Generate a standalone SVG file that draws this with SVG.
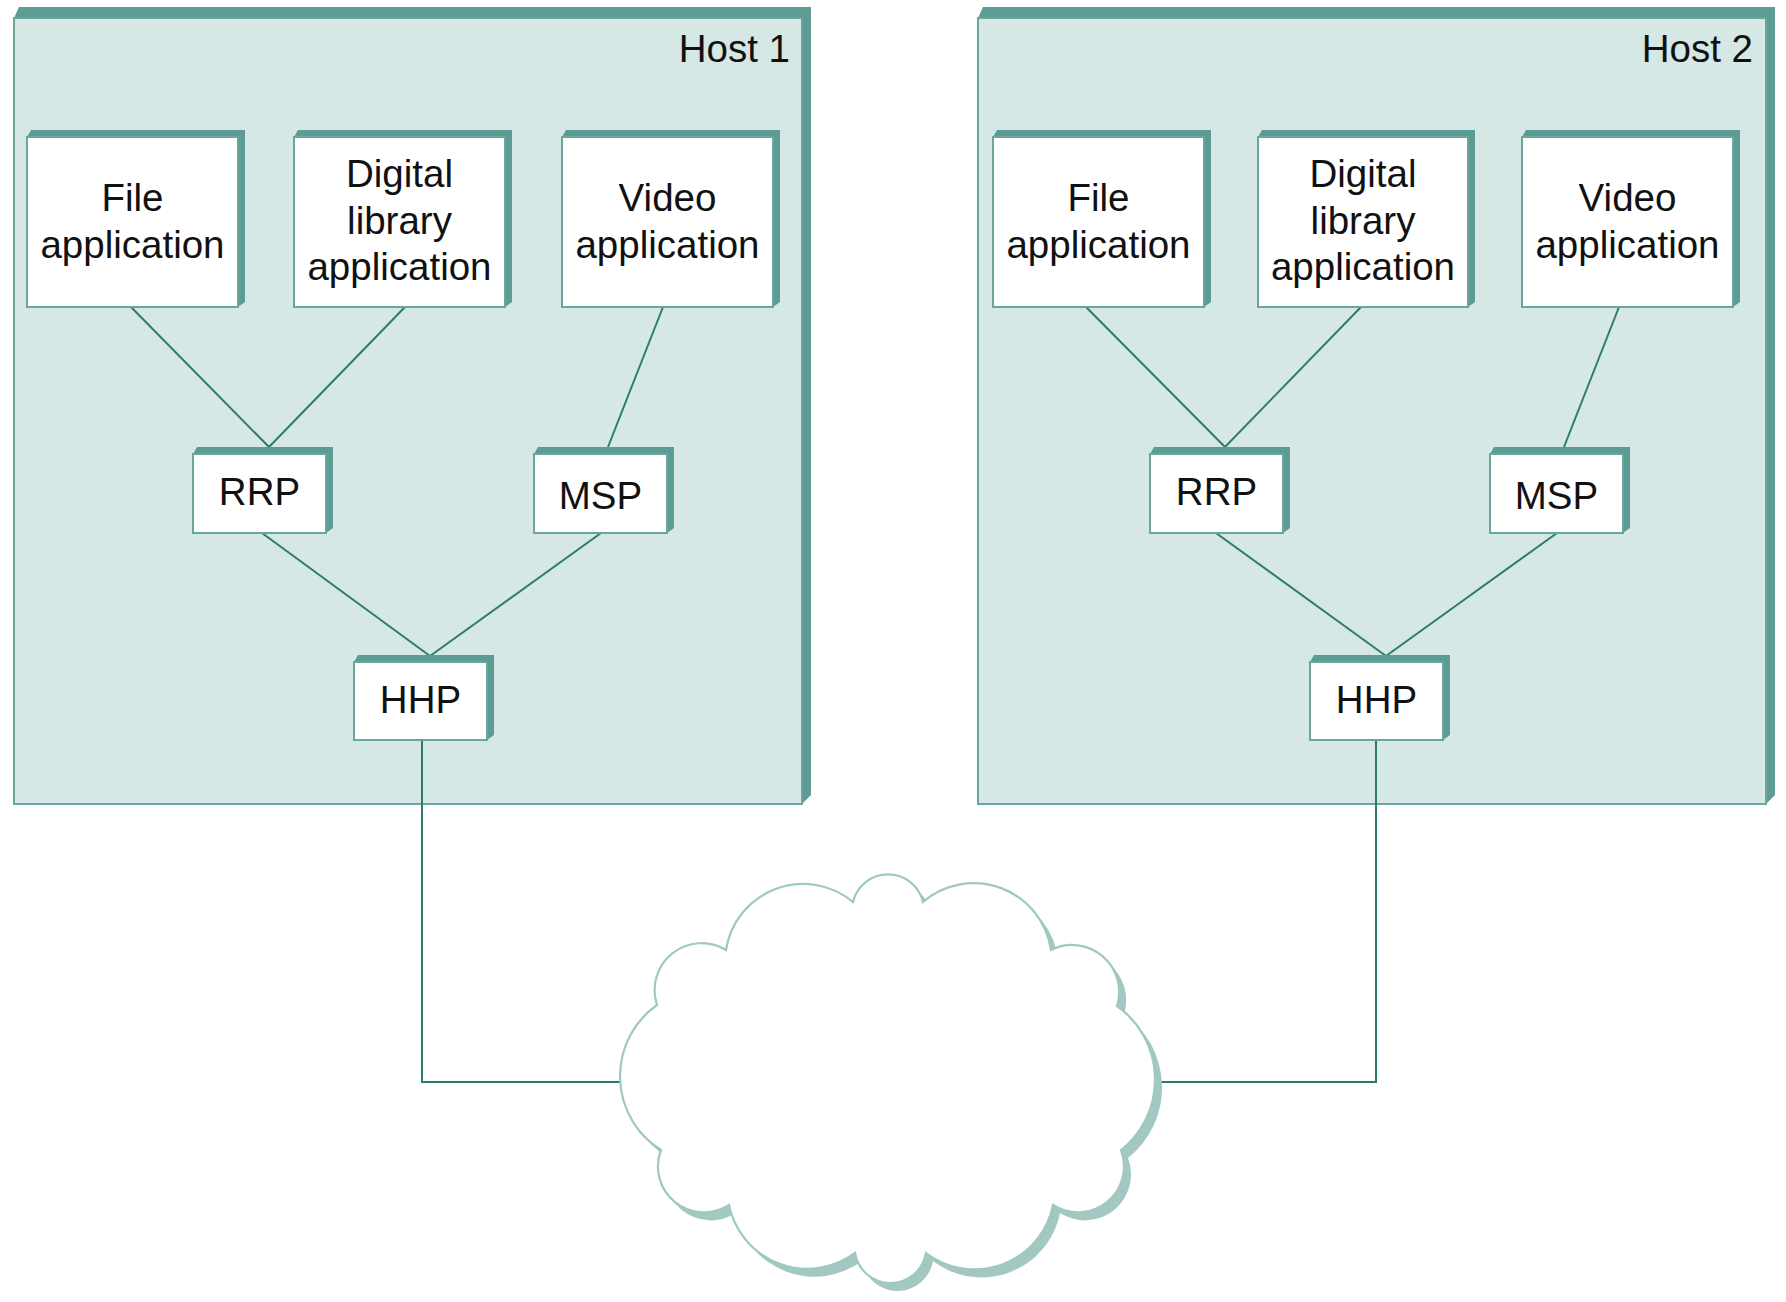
<svg xmlns="http://www.w3.org/2000/svg" width="1786" height="1302" viewBox="0 0 1786 1302">
<style>
  .bevel { fill: #5c9c94; }
  .host { fill: #d5e8e5; stroke: #6aa59e; stroke-width: 2; }
  .box { fill: #ffffff; stroke: #6aa59e; stroke-width: 2; }
  .lbl { font-family: "Liberation Sans", Arial, sans-serif; font-size: 38.5px; fill: #111111; text-anchor: middle; }
  .hostlbl { font-family: "Liberation Sans", Arial, sans-serif; font-size: 38.5px; fill: #111111; text-anchor: end; }
  .conn { fill: none; stroke: #2f7a70; stroke-width: 2; }
  .cloud { fill: #ffffff; stroke: #9fc8c1; stroke-width: 2.2; }
  .cloudshadow { fill: #a2c8c1; }
</style>
<defs>
  <path id="cloudpath" d="M 853 902 A 36 36 0 0 1 923 902 A 78 78 0 0 1 1051 950 A 47 47 0 0 1 1117 1006 A 90 90 0 0 1 1121 1150 A 46 46 0 0 1 1053 1205 A 80 80 0 0 1 926 1253 A 36 36 0 0 1 855 1253 A 80 80 0 0 1 729 1205 A 46 46 0 0 1 661 1150 A 87 87 0 0 1 657 1005 A 47 47 0 0 1 726 950 A 78 78 0 0 1 853 902 Z"/>
</defs>

<!-- Host containers -->
<g id="host1">
  <polygon class="bevel" points="14,18 19,7 811,7 811,795 802,804"/>
  <rect class="host" x="14" y="18" width="788" height="786"/>
  <text class="hostlbl" x="790" y="62">Host 1</text>
</g>
<g id="host2">
  <polygon class="bevel" points="978,18 983,7 1775,7 1775,795 1766,804"/>
  <rect class="host" x="978" y="18" width="788" height="786"/>
  <text class="hostlbl" x="1753" y="62">Host 2</text>
</g>

<!-- Connectors -->
<g id="connectors">
  <polyline class="conn" points="131,307 269,447"/>
  <polyline class="conn" points="405,307 269,447"/>
  <polyline class="conn" points="663,307 608,447"/>
  <polyline class="conn" points="262,533 430,656"/>
  <polyline class="conn" points="601,533 430,656"/>
  <polyline class="conn" points="422,740 422,1082 622,1082"/>
  <polyline class="conn" points="1086,307 1225,447"/>
  <polyline class="conn" points="1361,307 1225,447"/>
  <polyline class="conn" points="1619,307 1564,447"/>
  <polyline class="conn" points="1216,533 1386,656"/>
  <polyline class="conn" points="1557,533 1386,656"/>
  <polyline class="conn" points="1376,740 1376,1082 1154,1082"/>
</g>

<!-- Host 1 nodes -->
<g id="file1">
  <polygon class="bevel" points="27,137 31,130 245,130 245,302 238,307"/>
  <rect class="box" x="27" y="137" width="211" height="170"/>
  <text class="lbl" x="132.5"><tspan x="132.5" y="211">File</tspan><tspan x="132.5" y="258">application</tspan></text>
</g>
<g id="digital1">
  <polygon class="bevel" points="294,137 298,130 512,130 512,302 505,307"/>
  <rect class="box" x="294" y="137" width="211" height="170"/>
  <text class="lbl"><tspan x="399.5" y="187">Digital</tspan><tspan x="399.5" y="234">library</tspan><tspan x="399.5" y="280">application</tspan></text>
</g>
<g id="video1">
  <polygon class="bevel" points="562,137 566,130 780,130 780,302 773,307"/>
  <rect class="box" x="562" y="137" width="211" height="170"/>
  <text class="lbl"><tspan x="667.5" y="211">Video</tspan><tspan x="667.5" y="258">application</tspan></text>
</g>
<g id="rrp1">
  <polygon class="bevel" points="193,454 197,447 333,447 333,528 326,533"/>
  <rect class="box" x="193" y="454" width="133" height="79"/>
  <text class="lbl" x="259.5" y="505">RRP</text>
</g>
<g id="msp1">
  <polygon class="bevel" points="534,454 538,447 674,447 674,528 667,533"/>
  <rect class="box" x="534" y="454" width="133" height="79"/>
  <text class="lbl" x="600.5" y="509">MSP</text>
</g>
<g id="hhp1">
  <polygon class="bevel" points="354,662 358,655 494,655 494,735 487,740"/>
  <rect class="box" x="354" y="662" width="133" height="78"/>
  <text class="lbl" x="420.5" y="713">HHP</text>
</g>

<!-- Host 2 nodes -->
<g id="file2">
  <polygon class="bevel" points="993,137 997,130 1211,130 1211,302 1204,307"/>
  <rect class="box" x="993" y="137" width="211" height="170"/>
  <text class="lbl"><tspan x="1098.5" y="211">File</tspan><tspan x="1098.5" y="258">application</tspan></text>
</g>
<g id="digital2">
  <polygon class="bevel" points="1258,137 1262,130 1475,130 1475,302 1468,307"/>
  <rect class="box" x="1258" y="137" width="210" height="170"/>
  <text class="lbl"><tspan x="1363" y="187">Digital</tspan><tspan x="1363" y="234">library</tspan><tspan x="1363" y="280">application</tspan></text>
</g>
<g id="video2">
  <polygon class="bevel" points="1522,137 1526,130 1740,130 1740,302 1733,307"/>
  <rect class="box" x="1522" y="137" width="211" height="170"/>
  <text class="lbl"><tspan x="1627.5" y="211">Video</tspan><tspan x="1627.5" y="258">application</tspan></text>
</g>
<g id="rrp2">
  <polygon class="bevel" points="1150,454 1154,447 1290,447 1290,528 1283,533"/>
  <rect class="box" x="1150" y="454" width="133" height="79"/>
  <text class="lbl" x="1216.5" y="505">RRP</text>
</g>
<g id="msp2">
  <polygon class="bevel" points="1490,454 1494,447 1630,447 1630,528 1623,533"/>
  <rect class="box" x="1490" y="454" width="133" height="79"/>
  <text class="lbl" x="1556.5" y="509">MSP</text>
</g>
<g id="hhp2">
  <polygon class="bevel" points="1310,662 1314,655 1450,655 1450,735 1443,740"/>
  <rect class="box" x="1310" y="662" width="133" height="78"/>
  <text class="lbl" x="1376.5" y="713">HHP</text>
</g>

<!-- Network cloud -->
<g id="network">
  <use href="#cloudpath" class="cloudshadow" transform="translate(7,8)"/>
  <use href="#cloudpath" class="cloud"/>
</g>
</svg>
